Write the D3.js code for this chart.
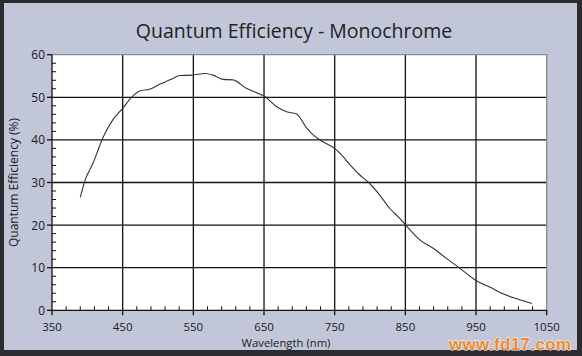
<!DOCTYPE html>
<html><head><meta charset="utf-8">
<script src="https://cdn.jsdelivr.net/npm/d3@7"></script>
<style>html,body{margin:0;padding:0;background:#2b2b30;} svg{display:block;}</style>
</head><body>
<script>
const wavelengths = [390,397,408,422,436,450,463,474,488,503,517,531,548,567,578,592,606,625,642,650,668,682,696,710,720,734,750,760,772,786,798,814,828,842,850,870,890,908,927,950,970,989,1008,1029];
const efficiency  = [26.5,30.6,34.5,40.5,44.7,47.4,50.1,51.5,51.9,53.1,54.1,55.1,55.2,55.6,55.2,54.2,54.1,52.1,50.9,50.3,47.8,46.6,46.1,42.9,41.1,39.5,38.0,36.4,34.1,31.7,30.0,27.0,23.9,21.6,20.1,16.6,14.5,12.2,9.9,7.0,5.4,3.8,2.7,1.6];
const xTicks = [350,450,550,650,750,850,950,1050];
const yTicks = [0,10,20,30,40,50,60];
const titleText = "Quantum Efficiency - Monochrome";
const xTitle = "Wavelength (nm)";
const yTitle = "Quantum Efficiency (%)";

const W = 582, H = 356;
const svg = d3.select("body").append("svg").attr("width", W).attr("height", H);
const font = "'Open Sans', 'DejaVu Sans', sans-serif";

// frame
svg.append("rect").attr("x",0).attr("y",0).attr("width",W).attr("height",H).attr("fill","#2b2b30");
svg.append("rect").attr("x",4).attr("y",3).attr("width",573).attr("height",347).attr("fill","#c1c7d9");

const x = d3.scaleLinear().domain([350,1050]).range([52,546.7]);
const y = d3.scaleLinear().domain([0,60]).range([310.3,54.7]);

// plot background
svg.append("rect").attr("x",x(350)).attr("y",y(60)).attr("width",x(1050)-x(350)).attr("height",y(0)-y(60)).attr("fill","#ffffff");

// grid
const g = svg.append("g");
g.selectAll(".vg").data(xTicks.slice(1,-1)).join("line")
  .attr("x1",d=>x(d)).attr("x2",d=>x(d)).attr("y1",y(60)).attr("y2",y(0))
  .attr("stroke","#111").attr("stroke-width",1.3);
g.selectAll(".hg").data(yTicks.slice(1,-1)).join("line")
  .attr("x1",x(350)).attr("x2",x(1050)).attr("y1",d=>y(d)).attr("y2",d=>y(d))
  .attr("stroke","#111").attr("stroke-width",1.3);
// top & right border
svg.append("path").attr("d",`M${x(350)},${y(60)}H${x(1050)}V${y(0)}`).attr("fill","none").attr("stroke","#8a8a8a").attr("stroke-width",1.3);

// curve
const line = d3.line().x(d=>x(d[0])).y(d=>y(d[1])).curve(d3.curveMonotoneX);
svg.append("path").datum(wavelengths.map((w,i)=>[w,efficiency[i]]))
  .attr("d",line).attr("fill","none").attr("stroke","#333").attr("stroke-width",1.1);

// x axis
const xMinor = d3.range(350,1051,20).filter(v=>(v-350)%100!==0);
const xa = svg.append("g").attr("transform",`translate(0,${y(0)})`);
xa.append("line").attr("x1",x(350)).attr("x2",x(1050)).attr("stroke","#111").attr("stroke-width",1.3);
xa.selectAll(".mj").data(xTicks).join("line").attr("x1",d=>x(d)).attr("x2",d=>x(d)).attr("y1",0).attr("y2",5).attr("stroke","#111").attr("stroke-width",1.3);
xa.selectAll(".mn").data(xMinor).join("line").attr("x1",d=>x(d)).attr("x2",d=>x(d)).attr("y1",0).attr("y2",-4).attr("stroke","#111").attr("stroke-width",1);
xa.selectAll(".lb").data(xTicks).join("text").attr("x",d=>x(d)).attr("y",21)
  .attr("text-anchor","middle").attr("font-family",font).attr("font-size",11.5).attr("fill","#1a1a1a").text(d=>d);
svg.append("text").attr("x",286).attr("y",347).attr("text-anchor","middle").attr("font-family",font).attr("font-size",11.3).attr("fill","#1a1a1a").text(xTitle);

// y axis
const yMinor = d3.range(0,61,2).filter(v=>v%10!==0);
const ya = svg.append("g").attr("transform",`translate(${x(350)},0)`);
ya.append("line").attr("y1",y(0)).attr("y2",y(60)).attr("stroke","#111").attr("stroke-width",1.3);
ya.selectAll(".mj").data(yTicks).join("line").attr("y1",d=>y(d)).attr("y2",d=>y(d)).attr("x1",-5).attr("x2",0).attr("stroke","#111").attr("stroke-width",1.3);
ya.selectAll(".mn").data(yMinor).join("line").attr("y1",d=>y(d)).attr("y2",d=>y(d)).attr("x1",0).attr("x2",4).attr("stroke","#111").attr("stroke-width",1);
ya.selectAll(".lb").data(yTicks).join("text").attr("x",-7).attr("y",d=>y(d)+4.5)
  .attr("text-anchor","end").attr("font-family",font).attr("font-size",12).attr("fill","#1a1a1a").text(d=>d);
svg.append("text").attr("transform",`translate(18,${(y(0)+y(60))/2}) rotate(-90)`).attr("text-anchor","middle")
  .attr("font-family",font).attr("font-size",12).attr("fill","#1a1a1a").text(yTitle);

// title
svg.append("text").attr("x",294).attr("y",38).attr("text-anchor","middle").attr("font-family",font).attr("font-size",19.5).attr("fill","#222").text(titleText);

// watermark
svg.append("text").attr("x",571).attr("y",350).attr("text-anchor","end").attr("font-family","'Liberation Sans', Arial, sans-serif")
  .attr("font-weight","bold").attr("font-size",17).attr("fill","#f08a2a").attr("stroke","#ffffff").attr("stroke-width",0.8).attr("paint-order","stroke")
  .attr("textLength",122).text("www.fd17.com");
</script>
</body></html>
